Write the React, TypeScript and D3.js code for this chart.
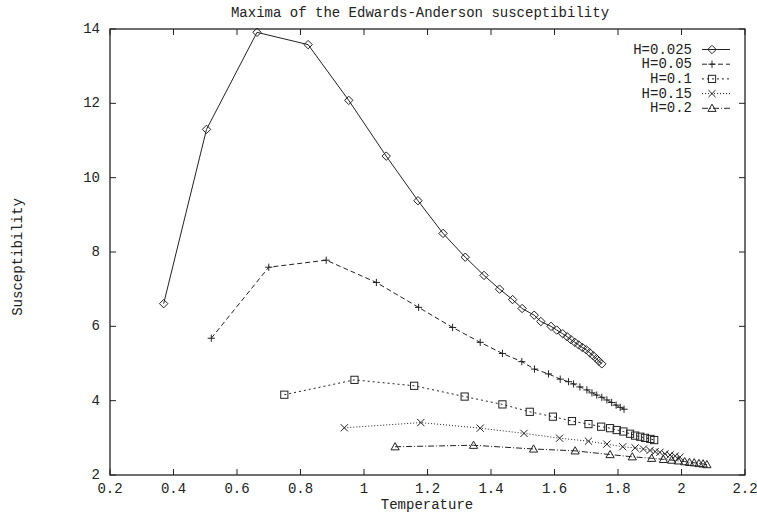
import React from "react";
import * as d3 from "d3";

// ---- data ----
const T_H0025 = [0.369, 0.504, 0.663, 0.824, 0.952, 1.07, 1.17, 1.249, 1.319, 1.378, 1.427, 1.468, 1.498, 1.536, 1.557, 1.589, 1.607, 1.626, 1.64, 1.652, 1.664, 1.676, 1.688, 1.7, 1.711, 1.722, 1.732, 1.74, 1.749];
const X_H0025 = [6.61, 11.3, 13.91, 13.58, 12.08, 10.58, 9.38, 8.5, 7.86, 7.37, 7.0, 6.72, 6.48, 6.3, 6.13, 6.0, 5.9, 5.8, 5.72, 5.64, 5.57, 5.5, 5.43, 5.37, 5.29, 5.21, 5.13, 5.06, 4.99];

const T_H005 = [0.519, 0.7, 0.881, 1.039, 1.172, 1.279, 1.366, 1.436, 1.497, 1.537, 1.581, 1.618, 1.644, 1.66, 1.68, 1.702, 1.718, 1.733, 1.749, 1.765, 1.78, 1.794, 1.807, 1.819];
const X_H005 = [5.68, 7.59, 7.78, 7.18, 6.51, 5.97, 5.57, 5.27, 5.05, 4.85, 4.72, 4.58, 4.51, 4.45, 4.37, 4.29, 4.21, 4.15, 4.09, 4.02, 3.95, 3.88, 3.82, 3.77];

const T_H01 = [0.749, 0.97, 1.158, 1.317, 1.436, 1.522, 1.595, 1.655, 1.707, 1.747, 1.775, 1.796, 1.817, 1.838, 1.854, 1.87, 1.885, 1.902, 1.914];
const X_H01 = [4.16, 4.56, 4.4, 4.11, 3.9, 3.7, 3.57, 3.45, 3.37, 3.3, 3.26, 3.21, 3.17, 3.11, 3.06, 3.03, 3.0, 2.97, 2.94];

const T_H015 = [0.938, 1.179, 1.366, 1.504, 1.616, 1.707, 1.765, 1.815, 1.854, 1.88, 1.901, 1.917, 1.932, 1.948, 1.964, 1.98, 1.995];
const X_H015 = [3.27, 3.41, 3.26, 3.12, 2.99, 2.91, 2.83, 2.76, 2.73, 2.7, 2.66, 2.63, 2.61, 2.57, 2.54, 2.51, 2.48];

const T_H02 = [1.098, 1.345, 1.534, 1.665, 1.775, 1.845, 1.906, 1.943, 1.969, 1.99, 2.01, 2.025, 2.04, 2.055, 2.068, 2.08];
const X_H02 = [2.76, 2.8, 2.7, 2.65, 2.55, 2.49, 2.45, 2.42, 2.4, 2.38, 2.36, 2.34, 2.33, 2.31, 2.3, 2.28];

const SERIES_LABELS = ["H=0.025", "H=0.05", "H=0.1", "H=0.15", "H=0.2"];
const X_TICKS = [0.2, 0.4, 0.6, 0.8, 1, 1.2, 1.4, 1.6, 1.8, 2, 2.2];
const X_TICK_LABELS = ["0.2", "0.4", "0.6", "0.8", "1", "1.2", "1.4", "1.6", "1.8", "2", "2.2"];
const Y_TICKS = [2, 4, 6, 8, 10, 12, 14];
const Y_TICK_LABELS = ["2", "4", "6", "8", "10", "12", "14"];
const TITLE = "Maxima of the Edwards-Anderson susceptibility";
const X_LABEL = "Temperature";
const Y_LABEL = "Susceptibility";

// ---- layout ----
const W = 757, H = 513;
const L = 110, R = 745, TOP = 29, BOT = 475;
const FONT = "'Liberation Mono', 'Courier New', monospace";
const INK = "#222";

const x = d3.scaleLinear().domain([0.2, 2.2]).range([L, R]);
const y = d3.scaleLinear().domain([2, 14]).range([BOT, TOP]);

const seriesT = [T_H0025, T_H005, T_H01, T_H015, T_H02];
const seriesX = [X_H0025, X_H005, X_H01, X_H015, X_H02];
const dashes = ["", "5,3", "2,3", "1,2", "6,2,1,2"];
const markers = ["diamond", "plus", "square", "cross", "triangle"];

function Marker({ kind, cx, cy }: { kind: string; cx: number; cy: number }) {
  const s = 3.6;
  const common = { fill: "none", stroke: INK, strokeWidth: 1 };
  if (kind === "diamond")
    return <path d={`M${cx},${cy - s - 0.6}L${cx + s + 0.6},${cy}L${cx},${cy + s + 0.6}L${cx - s - 0.6},${cy}Z`} {...common} />;
  if (kind === "plus")
    return <path d={`M${cx - s},${cy}H${cx + s}M${cx},${cy - s}V${cy + s}`} {...common} />;
  if (kind === "square")
    return <rect x={cx - s} y={cy - s} width={2 * s} height={2 * s} {...common} />;
  if (kind === "cross")
    return <path d={`M${cx - s},${cy - s}L${cx + s},${cy + s}M${cx - s},${cy + s}L${cx + s},${cy - s}`} {...common} />;
  return <path d={`M${cx},${cy - s - 0.5}L${cx + s + 0.5},${cy + s - 0.5}L${cx - s - 0.5},${cy + s - 0.5}Z`} {...common} />;
}

export default function App() {
  const line = d3.line<[number, number]>().x((d) => x(d[0])).y((d) => y(d[1]));
  const tickLen = 6;
  return (
    <svg width={W} height={H} style={{ position: "absolute", left: 0, top: 0, background: "#fff" }} fontFamily={FONT}>
      <rect x={0} y={0} width={W} height={H} fill="#fff" />
      {/* ticks */}
      {X_TICKS.map((t, i) => (
        <g key={"xt" + i}>
          <line x1={x(t)} x2={x(t)} y1={BOT} y2={BOT - tickLen} stroke={INK} strokeWidth={1} />
          <line x1={x(t)} x2={x(t)} y1={TOP} y2={TOP + tickLen} stroke={INK} strokeWidth={1} />
          <text x={x(t)} y={493} fontSize={14} textAnchor="middle" fill={INK}>{X_TICK_LABELS[i]}</text>
        </g>
      ))}
      {Y_TICKS.map((v, i) => (
        <g key={"yt" + i}>
          <line x1={L} x2={L + tickLen} y1={y(v)} y2={y(v)} stroke={INK} strokeWidth={1} />
          <line x1={R} x2={R - tickLen} y1={y(v)} y2={y(v)} stroke={INK} strokeWidth={1} />
          <text x={100} y={y(v)} fontSize={14} textAnchor="end" dominantBaseline="central" fill={INK}>{Y_TICK_LABELS[i]}</text>
        </g>
      ))}
      {/* frame */}
      <rect x={L} y={TOP} width={R - L} height={BOT - TOP} fill="none" stroke={INK} strokeWidth={1.3} />
      {/* series */}
      {seriesT.map((ts, si) => {
        const pts: [number, number][] = ts.map((t, j) => [t, seriesX[si][j]]);
        return (
          <g key={"s" + si}>
            <path d={line(pts) || ""} fill="none" stroke={INK} strokeWidth={1} strokeDasharray={dashes[si] || undefined} />
            {pts.map((p, j) => (
              <Marker key={j} kind={markers[si]} cx={x(p[0])} cy={y(p[1])} />
            ))}
          </g>
        );
      })}
      {/* legend */}
      {SERIES_LABELS.map((lab, i) => {
        const ly = 49.5 + i * 14.7;
        return (
          <g key={"lg" + i}>
            <text x={692} y={ly} fontSize={14} textAnchor="end" dominantBaseline="central" fill={INK}>{lab}</text>
            <line x1={702} x2={730} y1={ly} y2={ly} stroke={INK} strokeWidth={1} strokeDasharray={dashes[i] || undefined} />
            <Marker kind={markers[i]} cx={712} cy={ly} />
          </g>
        );
      })}
      {/* titles */}
      <text x={420} y={17} fontSize={14} textAnchor="middle" fill={INK}>{TITLE}</text>
      <text x={427} y={509} fontSize={14} textAnchor="middle" fill={INK}>{X_LABEL}</text>
      <text x={0} y={0} fontSize={14} textAnchor="middle" fill={INK} transform={`translate(22,257) rotate(-90)`}>{Y_LABEL}</text>
    </svg>
  );
}
